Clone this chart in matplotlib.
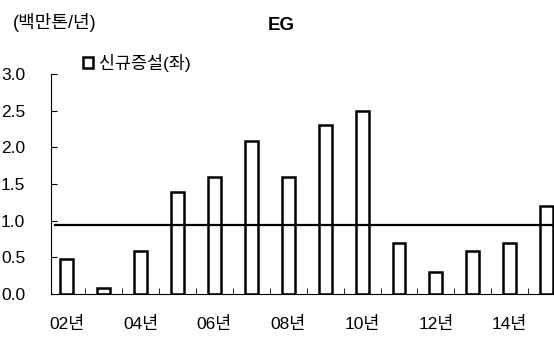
import matplotlib.pyplot as plt
import numpy as np

plt.rcParams['font.family'] = ['Liberation Sans', 'Noto Sans CJK KR']

years = ['02', '03', '04', '05', '06', '07', '08', '09', '10', '11', '12', '13', '14', '15']
new_capacity = [0.48, 0.08, 0.59, 1.39, 1.6, 2.09, 1.6, 2.3, 2.49, 0.7, 0.3, 0.59, 0.7, 1.2]
avg_level = 0.945

fig = plt.figure(figsize=(5.54, 3.38), dpi=100)
ax = fig.add_axes([0.092, 0.13, 0.908, 0.651])

x = np.arange(len(years))
ax.bar(x, new_capacity, width=0.35, color='white', edgecolor='black', linewidth=1.8,
       label='신규증설(좌)', zorder=2)
ax.axhline(avg_level, xmin=0.008, color='black', linewidth=1.6, zorder=3)

ax.set_ylim(0, 3.0)
ax.set_xlim(-0.43, 13.2)
ax.set_yticks(np.arange(0, 3.01, 0.5))
ax.set_yticklabels([f'{v:.1f}' for v in np.arange(0, 3.01, 0.5)])
ax.yaxis.set_tick_params(direction='in', length=4, pad=36, labelsize=12.5)
for lab in ax.get_yticklabels():
    lab.set_horizontalalignment('left')

ax.set_xticks(x[::2])
ax.set_xticklabels([f'{y}년' for y in years[::2]])
ax.set_xticks(x[:-1] + 0.5, minor=True)
ax.xaxis.set_tick_params(which='major', length=0, pad=16, labelsize=12.5)
ax.xaxis.set_tick_params(which='minor', direction='in', length=4)

for s in ['top', 'right']:
    ax.spines[s].set_visible(False)
ax.spines['left'].set_linewidth(0.8)
ax.spines['bottom'].set_linewidth(0.8)

ax.legend(loc='center left', bbox_to_anchor=(83 / 554, 1 - 63 / 338),
          bbox_transform=fig.transFigure, frameon=False, borderpad=0, borderaxespad=0,
          handlelength=0.6, handleheight=0.6, handletextpad=0.35, fontsize=12.5)

fig.text(13 / 554, 1 - 23 / 338, '(백만톤/년)', fontsize=13, va='center')
fig.text(281 / 554, 1 - 25 / 338, 'EG', fontsize=13.5, fontweight='bold',
         ha='center', va='center')

fig.savefig('out.png', dpi=100)
